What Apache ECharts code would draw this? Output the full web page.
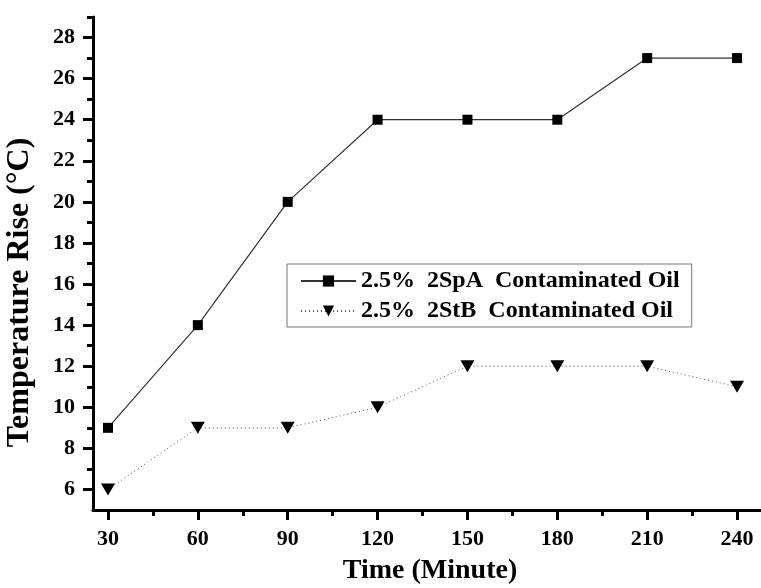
<!DOCTYPE html>
<html><head><meta charset="utf-8">
<script src="https://cdn.jsdelivr.net/npm/echarts@6/dist/echarts.min.js"></script>
<style>html,body{margin:0;padding:0;background:#fff}#c{width:761px;height:588px}</style>
</head><body><div id="c"></div>
<script>
const times = [30, 60, 90, 120, 150, 180, 210, 240];
const spaValues = [9, 14, 20, 24, 24, 24, 27, 27];
const stbValues = [6, 9, 9, 10, 12, 12, 12, 11];
const seriesNames = ['2.5%  2SpA  Contaminated Oil', '2.5%  2StB  Contaminated Oil'];
const xMinorTicks = [45, 75, 105, 135, 165, 195, 225];
const yMajorTicks = [6, 8, 10, 12, 14, 16, 18, 20, 22, 24, 26, 28];
const yMinorTicks = [7, 9, 11, 13, 15, 17, 19, 21, 23, 25, 27, 29];
const xTitle = 'Time (Minute)';
const yTitle = 'Temperature Rise (°C)';
const font = '"Liberation Serif", "Times New Roman", serif';

const axisLineStyle = { color: '#000', width: 3 };
const labelStyle = { fontFamily: font, fontWeight: 'bold', fontSize: 22, color: '#000' };

const chart = echarts.init(document.getElementById('c'));
chart.setOption({
  animation: false,
  backgroundColor: '#fff',
  grid: { left: 93, right: -6, top: 17, bottom: 78, containLabel: false, outerBoundsMode: 'none' },
  legend: {
    orient: 'vertical', left: 287, top: 264,
    padding: [5, 12, 4, 13],
    itemGap: 6,
    itemWidth: 55, itemHeight: 14,
    borderColor: '#777', borderWidth: 1,
    textStyle: { fontFamily: font, fontWeight: 'bold', fontSize: 24, color: '#000' },
    data: seriesNames
  },
  xAxis: [{
    type: 'value', min: 25, max: 250,
    name: xTitle, nameLocation: 'middle', nameGap: 47, nameMoveOverlap: false,
    nameTextStyle: { fontFamily: font, fontWeight: 'bold', fontSize: 28, color: '#000' },
    axisLine: { show: true, onZero: false, lineStyle: axisLineStyle },
    axisTick: { show: true, length: 10, lineStyle: { color: '#000', width: 3 }, customValues: times },
    axisLabel: Object.assign({ margin: 18, customValues: times }, labelStyle),
    splitLine: { show: false }
  }, {
    type: 'value', min: 25, max: 250, position: 'bottom',
    axisLine: { show: false, onZero: false },
    axisTick: { show: true, length: 6, lineStyle: { color: '#000', width: 3 }, customValues: xMinorTicks },
    axisLabel: { show: false },
    splitLine: { show: false }
  }],
  yAxis: [{
    type: 'value', min: 5, max: 29,
    name: yTitle, nameLocation: 'middle', nameGap: 57, nameMoveOverlap: false,
    nameTextStyle: { fontFamily: font, fontWeight: 'bold', fontSize: 32, color: '#000', padding: [0, 58, 0, 0] },
    axisLine: { show: true, onZero: false, lineStyle: axisLineStyle },
    axisTick: { show: true, length: 10, lineStyle: { color: '#000', width: 3 }, customValues: yMajorTicks },
    axisLabel: Object.assign({ margin: 18, customValues: yMajorTicks }, labelStyle),
    splitLine: { show: false }
  }, {
    type: 'value', min: 5, max: 29, position: 'left',
    axisLine: { show: false, onZero: false },
    axisTick: { show: true, length: 6, lineStyle: { color: '#000', width: 3 }, customValues: yMinorTicks },
    axisLabel: { show: false },
    splitLine: { show: false }
  }],
  series: [
    {
      name: seriesNames[0], type: 'line',
      data: times.map((t, i) => [t, spaValues[i]]),
      symbol: 'rect', symbolSize: 10,
      itemStyle: { color: '#000' },
      lineStyle: { color: '#333', width: 1.2 }
    },
    {
      name: seriesNames[1], type: 'line',
      data: times.map((t, i) => [t, stbValues[i]]),
      symbol: 'triangle', symbolRotate: 180, symbolSize: [14, 12],
      itemStyle: { color: '#000' },
      lineStyle: { color: '#555', width: 1, type: [1, 3] }
    }
  ]
});
</script>
</body></html>
